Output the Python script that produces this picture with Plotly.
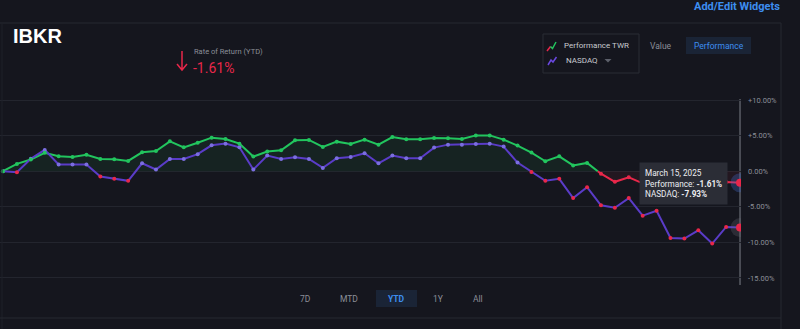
import pandas as pd
import plotly.graph_objects as go

# ---- data -------------------------------------------------------------
dates = list(pd.bdate_range("2025-01-01", "2025-03-14")) + [pd.Timestamp("2025-03-15")]
date_labels = [f"{d:%B} {d.day}, {d.year}" for d in dates]

performance_twr = [
    0.00, 1.03, 1.65, 2.60, 2.10, 2.00, 2.30, 1.73, 1.68, 1.45,
    2.66, 2.85, 4.20, 3.36, 4.00, 4.72, 4.53, 3.88, 2.06, 2.76,
    2.94, 4.34, 4.40, 3.41, 4.16, 3.83, 4.44, 3.74, 4.80, 4.48,
    4.48, 4.67, 4.62, 4.53, 5.04, 5.04, 4.44, 3.60, 2.62, 1.40,
    2.10, 0.82, 1.17, -0.35, -1.49, -0.86, -1.70, -1.35, -1.10, -1.45,
    -1.25, -1.70, -1.50, -1.61,
]
nasdaq = [
    0.00, -0.13, 1.75, 3.00, 0.94, 0.94, 0.94, -0.74, -1.07, -1.35,
    1.12, 0.24, 1.73, 1.73, 2.40, 3.64, 3.88, 3.36, 0.24, 2.20,
    1.73, 1.96, 1.73, 0.47, 1.82, 2.00, 2.52, 1.12, 2.20, 1.82,
    1.82, 3.32, 3.74, 3.74, 3.83, 3.88, 3.46, 1.22, -0.10, -1.35,
    -1.07, -3.78, -2.24, -4.80, -5.13, -3.78, -6.25, -5.55, -9.38, -9.47,
    -8.31, -10.17, -7.84, -7.93,
]
y_ticks = [10, 5, 0, -5, -10, -15]
y_tick_labels = ["+10.00%", "+5.00%", "0.00%", "-5.00%", "-10.00%", "-15.00%"]
range_buttons = ["7D", "MTD", "YTD", "1Y", "All"]

# ---- styling ----------------------------------------------------------
BG = "#15161e"
GRID = "#23252e"
GREEN = "#22c55e"
RED = "#e8274a"
PURPLE = "#5a3cc8"
PURPLE_DOT = "#7b6ee0"
MUTED = "#8b8e98"
BLUE = "#3d8ef0"
FONT = "Roboto"

W, H = 800, 329
ML, MR, MT, MB = 0, 59, 93, 44
PW, PH = W - ML - MR, H - MT - MB


def px(x):
    return (x - ML) / PW


def py(y):
    return (H - MB - y) / PH


xs = list(range(len(dates)))


def split_at_zero(xv, yv):
    """Split a series into its non-negative and non-positive parts,
    inserting the zero crossing so both parts meet on the axis."""
    pts = []
    for i in range(len(xv)):
        if i > 0 and yv[i - 1] * yv[i] < 0:
            t = yv[i - 1] / (yv[i - 1] - yv[i])
            pts.append((xv[i - 1] + t * (xv[i] - xv[i - 1]), 0.0))
        pts.append((xv[i], yv[i]))
    px_ = [p[0] for p in pts]
    pos = [p[1] if p[1] >= 0 else None for p in pts]
    neg = [p[1] if p[1] <= 0 else None for p in pts]
    return px_, pos, neg


sx, pos_y, neg_y = split_at_zero(xs, performance_twr)

fig = go.Figure()

# performance: green above zero, red below, each filled to the axis
fig.add_trace(go.Scatter(
    x=sx, y=pos_y, mode="lines", line=dict(color=GREEN, width=2),
    fill="tozeroy", fillcolor="rgba(34,197,94,0.08)", hoverinfo="skip",
))
fig.add_trace(go.Scatter(
    x=sx, y=neg_y, mode="lines", line=dict(color=RED, width=2),
    fill="tozeroy", fillcolor="rgba(232,39,74,0.07)", hoverinfo="skip",
))

# nasdaq line with its point markers
fig.add_trace(go.Scatter(
    x=xs, y=nasdaq, mode="lines+markers",
    line=dict(color=PURPLE, width=2),
    marker=dict(size=4, color=[PURPLE_DOT if v >= 0 else RED for v in nasdaq]),
    customdata=date_labels, hovertemplate="%{customdata}: %{y:.2f}%<extra>NASDAQ</extra>",
))

# performance point markers
fig.add_trace(go.Scatter(
    x=xs, y=performance_twr, mode="markers",
    marker=dict(size=4, color=[GREEN if v >= 0 else RED for v in performance_twr]),
    customdata=date_labels, hovertemplate="%{customdata}: %{y:.2f}%<extra>Performance</extra>",
))

# highlighted last points
fig.add_trace(go.Scatter(
    x=[xs[-1]], y=[performance_twr[-1]], mode="markers",
    marker=dict(size=19, color="rgba(70,110,210,0.30)"), hoverinfo="skip",
))
fig.add_trace(go.Scatter(
    x=[xs[-1]], y=[nasdaq[-1]], mode="markers",
    marker=dict(size=19, color="rgba(110,112,125,0.25)"), hoverinfo="skip",
))
fig.add_trace(go.Scatter(
    x=[xs[-1], xs[-1]], y=[performance_twr[-1], nasdaq[-1]], mode="markers",
    marker=dict(size=8, color=RED), hoverinfo="skip",
))

shapes = []
line_c = "#262831"
# card frame
shapes.append(dict(type="line", xref="paper", yref="paper", x0=px(0), x1=px(781), y0=py(23), y1=py(23),
                   line=dict(color=line_c, width=1)))
shapes.append(dict(type="line", xref="paper", yref="paper", x0=px(781), x1=px(781), y0=py(23), y1=py(329),
                   line=dict(color=line_c, width=1)))
shapes.append(dict(type="line", xref="paper", yref="paper", x0=px(2), x1=px(2), y0=py(23), y1=py(329),
                   line=dict(color="#1e2028", width=1)))
shapes.append(dict(type="line", xref="paper", yref="paper", x0=px(0), x1=px(781), y0=py(318), y1=py(318),
                   line=dict(color=line_c, width=1)))
# hover spike at the last point
shapes.append(dict(type="line", xref="x", yref="paper", x0=xs[-1], x1=xs[-1], y0=0, y1=py(99),
                   line=dict(color="#7d808a", width=1), layer="below"))
# down arrow beside the return figure
shapes.append(dict(type="path", xref="paper", yref="paper",
                   path=f"M{px(182)},{py(51)} L{px(182)},{py(70)} M{px(177)},{py(64)} L{px(182)},{py(70)} L{px(187)},{py(64)}",
                   line=dict(color=RED, width=1.5)))
# legend box and icons
shapes.append(dict(type="rect", xref="paper", yref="paper", x0=px(543), x1=px(639), y0=py(73), y1=py(34),
                   line=dict(color="#2a2c35", width=1)))
shapes.append(dict(type="path", xref="paper", yref="paper",
                   path=f"M{px(547)},{py(51)} L{px(550.5)},{py(46.5)}", line=dict(color=RED, width=1.5)))
shapes.append(dict(type="path", xref="paper", yref="paper",
                   path=f"M{px(550.5)},{py(46.5)} L{px(552.5)},{py(48.5)} L{px(556)},{py(42)}",
                   line=dict(color=GREEN, width=1.5)))
shapes.append(dict(type="path", xref="paper", yref="paper",
                   path=f"M{px(548)},{py(65)} L{px(551)},{py(60)} L{px(553)},{py(62)} L{px(556.5)},{py(57)}",
                   line=dict(color="#6a48e0", width=1.5)))
shapes.append(dict(type="path", xref="paper", yref="paper",
                   path=f"M{px(604.5)},{py(59)} L{px(611.5)},{py(59)} L{px(608)},{py(62.5)} Z",
                   fillcolor="#5d606a", line=dict(width=0)))
# active toggle backgrounds
shapes.append(dict(type="rect", xref="paper", yref="paper", x0=px(686), x1=px(751), y0=py(54), y1=py(37),
                   fillcolor="#1a2436", line=dict(width=0)))
shapes.append(dict(type="rect", xref="paper", yref="paper", x0=px(376), x1=px(417), y0=py(307), y1=py(290),
                   fillcolor="#1a2436", line=dict(width=0)))

annotations = []


def label(x, y, text, size, color, xanchor="left", bold=False, family=FONT, **kw):
    annotations.append(dict(
        xref="paper", yref="paper", x=px(x), y=py(y), text=f"<b>{text}</b>" if bold else text,
        showarrow=False, xanchor=xanchor, yanchor="middle",
        font=dict(family=family, size=size, color=color), **kw))


label(782, 6, "Add/Edit Widgets", 11, BLUE, xanchor="right", bold=True)
label(11, 36, "IBKR", 20, "#ffffff", bold=True, family="Liberation Sans")
label(192, 51, "Rate of Return (YTD)", 7.5, MUTED)
label(191, 68, f"{performance_twr[-1]:.2f}%", 14, RED)
label(562, 46, "Performance TWR", 8, "#c8cad0")
label(564, 61, "NASDAQ", 8, "#c8cad0")
label(661, 46, "Value", 8.5, MUTED, xanchor="center")
label(718.5, 45.5, "Performance", 8.5, BLUE, xanchor="center")

button_x = [305, 349, 396.5, 438, 478]
for name, bx in zip(range_buttons, button_x):
    label(bx, 299, name, 8.5, BLUE if name == "YTD" else MUTED, xanchor="center", bold=(name == "YTD"))

# hover card for the last date
annotations.append(dict(
    xref="paper", yref="paper", x=px(728), y=py(162), xanchor="right", yanchor="top",
    showarrow=False, align="left", bgcolor="#2b2d36", borderpad=5,
    text=(f"{date_labels[-1]}<br>Performance: <b>{performance_twr[-1]:.2f}%</b>"
          f"<br>NASDAQ: <b>{nasdaq[-1]:.2f}%</b>"),
    font=dict(family=FONT, size=8.2, color="#eceef2"),
))

fig.update_layout(
    width=W, height=H,
    margin=dict(l=ML, r=MR, t=MT, b=MB, pad=0),
    paper_bgcolor=BG, plot_bgcolor=BG,
    showlegend=False,
    shapes=shapes, annotations=annotations,
    xaxis=dict(range=[-0.216, 53.07], visible=False, showgrid=False, zeroline=False),
    yaxis=dict(range=[-16, 11], side="right", tickvals=y_ticks, ticktext=y_tick_labels,
               showgrid=True, gridcolor=GRID, gridwidth=1, zeroline=False, showline=False,
               ticks="", ticklabelstandoff=6,
               tickfont=dict(family=FONT, size=7.5, color=MUTED)),
    hovermode="closest",
)

fig.write_html("out.html")
